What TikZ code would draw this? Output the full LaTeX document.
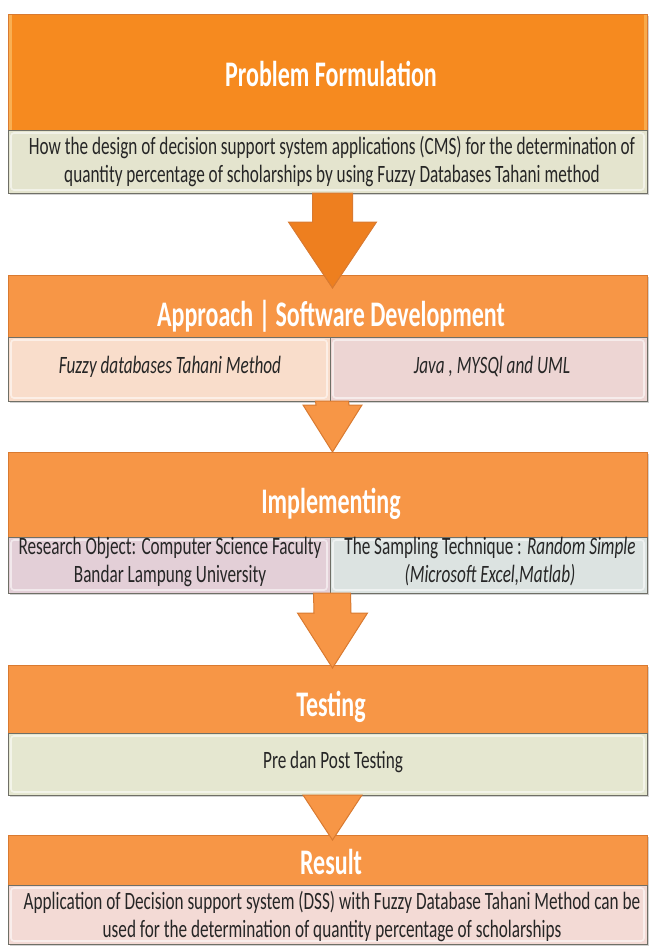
\documentclass[tikz,border=0pt]{standalone}
\usepackage{fontspec}
\setmainfont{Carlito}
\usetikzlibrary{calc,shadows}
\definecolor{orng}{HTML}{F79646}
\definecolor{orngdk}{HTML}{D97A30}
\definecolor{orngA}{HTML}{F68A1F}
\definecolor{orngL}{HTML}{FBC068}
\definecolor{goldL}{HTML}{FDBA4F}
\definecolor{goldE}{HTML}{EE7F1F}
\definecolor{bandG}{HTML}{E4E4CE}
\definecolor{peach}{HTML}{F9DDCB}
\definecolor{pinkR}{HTML}{EDD5D3}
\definecolor{lav}{HTML}{E3CFD7}
\definecolor{bluegr}{HTML}{DCE3E1}
\definecolor{greenB}{HTML}{E5E7D0}
\definecolor{pinkB}{HTML}{F3DAD5}
\definecolor{edgec}{HTML}{6F6F66}
\definecolor{txtc}{HTML}{262626}
\newcommand\vtxt[2][1.45]{\scalebox{1}[#1]{\begin{tabular}{@{}c@{}}#2\end{tabular}}}
\newcommand\fatarr[6]{%
  \draw[#6] ($(#1)+(-#3,0)$) -- ($(#1)+(#3,0)$) -- ($(#2)+(#3,-#5)$) -- ($(#2)+(#4,-#5)$)
    -- (#2) -- ($(#2)+(-#4,-#5)$) -- ($(#2)+(-#3,-#5)$) -- cycle;}
\tikzset{
  hdr/.style={rectangle, anchor=north west, inner sep=0pt, outer sep=0pt, fill=orng,
    draw=orngdk, line width=0.9pt,
    drop shadow={shadow xshift=1.5pt, shadow yshift=-2pt, opacity=0.35}},
  band/.style={rectangle, anchor=north west, inner sep=0pt, outer sep=0pt, draw=edgec,
    line width=0.9pt, drop shadow={shadow xshift=1.5pt, shadow yshift=-2pt, opacity=0.35},
    path picture={\draw[white, opacity=0.55, line width=1.6pt, rounded corners=3pt]
      ($(path picture bounding box.south west)+(3pt,3pt)$) rectangle
      ($(path picture bounding box.north east)+(-3pt,-3pt)$);}},
  ttl/.style={text=white, font=\fontsize{24}{29}\selectfont\bfseries, inner sep=0pt},
  txt/.style={text=txtc, font=\fontsize{17.2}{19.3}\selectfont, inner sep=0pt},
  farrow/.style={fill=orng, draw=orngdk, line width=1pt, line join=miter},
  goldarrow/.style={left color=goldE, middle color=goldL, right color=goldE,
    draw=orngdk, line width=1pt, line join=miter},
}
\begin{document}
\begin{tikzpicture}[x=1pt,y=-1pt]
\useasboundingbox[fill=white] (0,0) rectangle (649,946);

% Box 1
\node[hdr, fill=orngA, minimum width=639pt, minimum height=116pt,
  path picture={\draw[orngL, opacity=0.7, line width=3pt]
    ($(path picture bounding box.south west)+(2pt,0pt)$) -- ($(path picture bounding box.north west)+(2pt,0pt)$);
    \draw[orngL, opacity=0.6, line width=3pt]
    ($(path picture bounding box.south east)+(-2pt,0pt)$) -- ($(path picture bounding box.north east)+(-2pt,0pt)$);}]
  (h1) at (8,14) {};
\node[band, fill=bandG, minimum width=639pt, minimum height=63pt] (b1) at (8,130) {};
\node[ttl] (t1) at (331,78) {\vtxt[1.5]{Problem Formulation}};
\node[txt] (d1) at (332,163) {\vtxt{How the design of decision support system applications (CMS) for the determination of\\
quantity percentage of scholarships by using Fuzzy Databases Tahani method}};

% Box 2
\node[hdr, minimum width=639pt, minimum height=62pt] (h2) at (8,275) {};
\node[band, fill=peach, minimum width=322pt, minimum height=64pt] (s2l) at (8,337) {};
\node[band, fill=pinkR, minimum width=317pt, minimum height=64pt] (s2r) at (330,337) {};
\node[ttl] (t2) at (331,318) {\vtxt[1.5]{Approach | Software Development}};
\node[txt] (e2l) at (170,368) {\vtxt{\itshape Fuzzy databases Tahani Method}};
\node[txt] (e2r) at (492,368) {\vtxt{\itshape Java , MYSQl and UML}};

% Box 3
\node[hdr, minimum width=639pt, minimum height=85pt] (h3) at (8,452) {};
\node[band, fill=lav, minimum width=322pt, minimum height=56pt] (s3l) at (8,537) {};
\node[band, fill=bluegr, minimum width=317pt, minimum height=56pt] (s3r) at (330,537) {};
\node[ttl] (t3) at (331,505) {\vtxt[1.5]{Implementing}};
\node[txt] (e3l) at (170,563) {\vtxt{Research Object: Computer Science Faculty\\Bandar Lampung University}};
\node[txt] (e3r) at (490,563) {\vtxt{The Sampling Technique : \textit{Random Simple}\\\textit{(Microsoft Excel,Matlab)}}};

% Box 4
\node[hdr, minimum width=639pt, minimum height=68pt] (h4) at (8,665) {};
\node[band, fill=greenB, minimum width=639pt, minimum height=62pt] (b4) at (8,733) {};
\node[ttl] (t4) at (331,708) {\vtxt[1.5]{Testing}};
\node[txt] (d4) at (333,763) {\vtxt{Pre dan Post Testing}};

% Box 5
\node[hdr, minimum width=639pt, minimum height=50pt] (h5) at (8,835) {};
\node[band, fill=pinkB, minimum width=639pt, minimum height=59pt] (b5) at (8,885) {};
\node[ttl] (t5) at (331,866) {\vtxt[1.5]{Result}};
\node[txt] (d5) at (332,918) {\vtxt{Application of Decision support system (DSS) with Fuzzy Database Tahani Method can be\\
used for the determination of quantity percentage of scholarships}};

% Arrows
\coordinate (a1s) at ($(b1.south)+(5,0)$);
\coordinate (a1t) at ($(h2.north)+(5,13)$);
\fatarr{a1s}{a1t}{20}{44}{66}{goldarrow}
\coordinate (a2s) at ($(s2l.south east)+(2,0)$);
\coordinate (a2t) at ($(h3.north)+(5,0)$);
\fatarr{a2s}{a2t}{16.5}{29.5}{47}{farrow}
\coordinate (a3s) at ($(s3l.south east)+(2,0)$);
\coordinate (a3t) at ($(h4.north)+(5,3)$);
\fatarr{a3s}{a3t}{18.5}{35}{55}{farrow}
\coordinate (a4s) at ($(b4.south)+(5,0)$);
\coordinate (a4t) at ($(h5.north)+(5,5)$);
\fatarr{a4s}{a4t}{16}{29.5}{45}{farrow}
\end{tikzpicture}
\end{document}
